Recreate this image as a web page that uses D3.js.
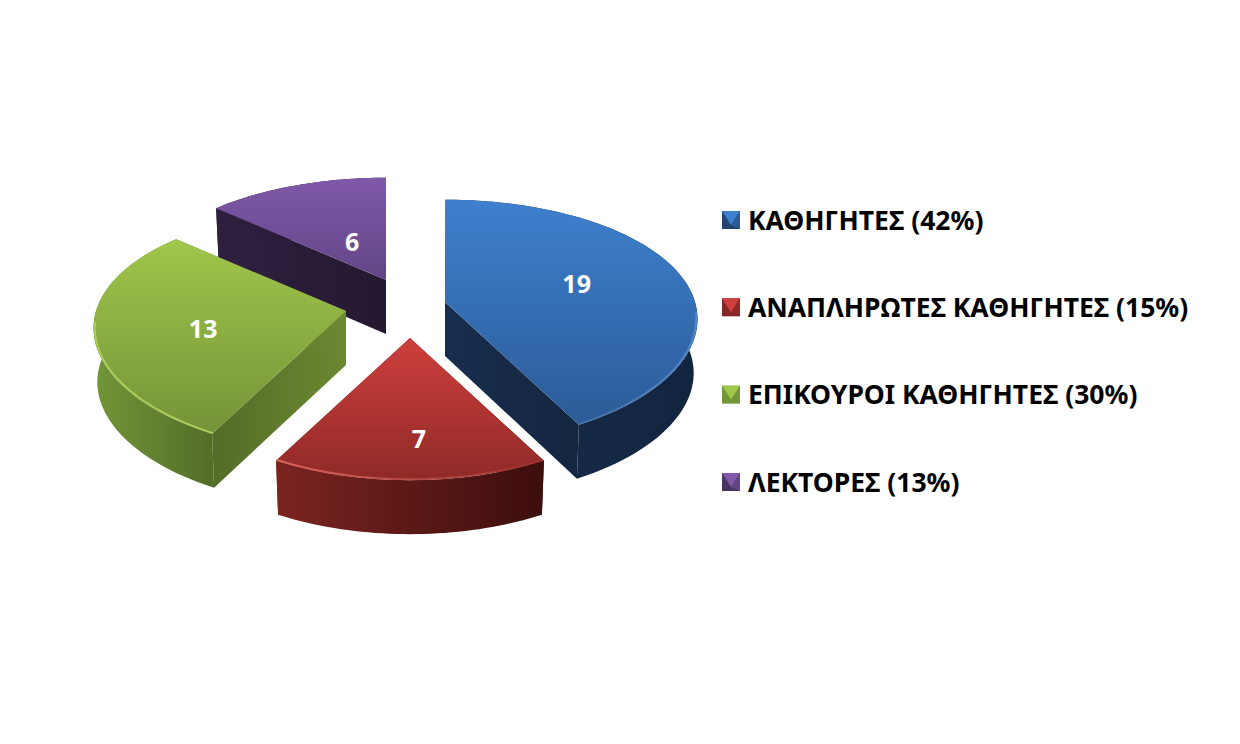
<!DOCTYPE html>
<html>
<head>
  <meta charset="utf-8">
  <script src="https://d3js.org/d3.v7.min.js"></script>
  <style>
    html, body { margin: 0; background: #fff; }
    text { font-family: "Noto Sans", sans-serif; font-weight: 700; }
    .value { fill: #fff; font-size: 25px; text-anchor: middle; }
    .legend-label { fill: #000; font-size: 26.5px; }
  </style>
</head>
<body>
  <svg id="chart" width="1240" height="744"></svg>
  <script>
    var categories = ['ΚΑΘΗΓΗΤΕΣ', 'ΑΝΑΠΛΗΡΩΤΕΣ ΚΑΘΗΓΗΤΕΣ', 'ΕΠΙΚΟΥΡΟΙ ΚΑΘΗΓΗΤΕΣ', 'ΛΕΚΤΟΡΕΣ'];
    var values = [19, 7, 13, 6];
    var percents = ['42%', '15%', '30%', '13%'];

    // top face gradient, wall gradient (left to right)
    var topColors = [['#3e80ce', '#2b5b97'], ['#ce3f3d', '#8f2a27'], ['#a0c64b', '#759338'], ['#8059a9', '#624586']];
    var wallColors = [['#182d4e', '#12253f'], ['#7b2421', '#3c0e0c'], ['#739638', '#536d27'], ['#2f2040', '#231730']];
    var cutColors = [['#182d4e', '#13263f'], ['#7b2421', '#3c0e0c'], ['#536c27', '#6c8831'], ['#2f2040', '#241831']];
    // rim highlight colour and its strength at the left and right end
    var glowColors = ['#6a9ad6', '#d9635e', '#aed05c', '#8059a9'];
    var glowFrom = [0.25, 1, 0.9, 0];
    var glowTo = [0.6, 0.1, 0.9, 0];

    // how far each slice is pulled out, on screen
    var sliceDx = d3.scaleOrdinal(categories, [45, 10, -54, -14]);
    var sliceDy = d3.scaleOrdinal(categories, [-7, 29, 2, -29]);
    // label placement along the middle of the slice
    var labelRadius = d3.scaleOrdinal(categories, [0.54, 0.7, 0.58, 0.39]);
    var labelDx = d3.scaleOrdinal(categories, [3, 9, 2, 4]);
    var labelDy = d3.scaleOrdinal(categories, [-3, 7, 6, 2]);

    var cx = 400, cy = 309;
    var rx = 250, ry = 119;
    var perspX = 0.14, perspY = 0.163;
    var depth = 54;
    var wallShrink = 0.985;

    var svg = d3.select('#chart');
    var defs = svg.append('defs');

    function gradient(id, stops, horizontal) {
      var g = defs.append('linearGradient').attr('id', id)
        .attr('x1', 0).attr('y1', 0)
        .attr('x2', horizontal ? 1 : 0).attr('y2', horizontal ? 0 : 1);
      stops.forEach(function (s, i) {
        g.append('stop').attr('offset', i / (stops.length - 1)).attr('stop-color', s);
      });
      return 'url(#' + id + ')';
    }

    defs.append('filter').attr('id', 'soft')
      .attr('x', '-5%').attr('y', '-20%').attr('width', '110%').attr('height', '140%')
      .append('feGaussianBlur').attr('stdDeviation', 0.7);

    // ground plane to screen, angle clockwise from 12 o'clock, with a bit of perspective
    function project(a, r, d, low) {
      var u = r * Math.sin(a), v = -r * Math.cos(a);
      return [
        cx + sliceDx(d.data) + rx * u / (1 - perspX * v) * (low ? wallShrink : 1),
        cy + sliceDy(d.data) + ry * v / (1 - perspY * v) + (low ? depth : 0)
      ];
    }

    function rimPoints(d, r, low) {
      var n = Math.ceil((d.endAngle - d.startAngle) * 40);
      return d3.range(n + 1).map(function (i) {
        return project(d.startAngle + (d.endAngle - d.startAngle) * i / n, r, d, low);
      });
    }

    var line = d3.line();
    var polygon = d3.line().curve(d3.curveLinearClosed);

    var slices = d3.pie().sort(null).value(function (c) { return values[categories.indexOf(c)]; })(categories);

    // painter's order: back slices first
    var drawOrder = [3, 2, 0, 1];

    drawOrder.forEach(function (i) {
      var d = slices[i];
      var g = svg.append('g').attr('class', 'slice');
      var rim = rimPoints(d, 1, false);
      var rimLow = rimPoints(d, 1, true);
      var apex = project(0, 0, d, false), apexLow = project(0, 0, d, true);

      // the two cut walls
      [0, rim.length - 1].forEach(function (k) {
        g.append('path')
          .attr('d', polygon([apex, rim[k], rimLow[k], apexLow]))
          .attr('fill', gradient('cut' + i + k, cutColors[i], true));
      });

      // outer wall
      g.append('path')
        .attr('d', polygon(rim.concat(rimLow.slice().reverse())))
        .attr('fill', gradient('wall' + i, wallColors[i], true));

      // top face
      g.append('path')
        .attr('d', polygon([apex].concat(rim)))
        .attr('fill', gradient('top' + i, topColors[i], false));

      // bevel highlight along the front of the rim
      var front = rimPoints(d, 0.995, false).filter(function (p) { return p[1] > apex[1] + 8; });
      if (glowFrom[i] > 0 && front.length > 1) {
        var glowId = 'glow' + i;
        var gg = defs.append('linearGradient').attr('id', glowId)
          .attr('gradientUnits', 'userSpaceOnUse')
          .attr('x1', d3.min(front, function (p) { return p[0]; })).attr('y1', 0)
          .attr('x2', d3.max(front, function (p) { return p[0]; })).attr('y2', 0);
        gg.append('stop').attr('offset', 0).attr('stop-color', glowColors[i]).attr('stop-opacity', glowFrom[i]);
        gg.append('stop').attr('offset', 1).attr('stop-color', glowColors[i]).attr('stop-opacity', glowTo[i]);
        g.append('path')
          .attr('d', line(front))
          .attr('fill', 'none')
          .attr('stroke', 'url(#' + glowId + ')')
          .attr('stroke-width', 2)
          .attr('filter', 'url(#soft)');
      }
    });

    // value labels
    svg.append('g').selectAll('text')
      .data(slices)
      .enter()
      .append('text')
      .attr('class', 'value')
      .attr('x', function (d) {
        return project((d.startAngle + d.endAngle) / 2, labelRadius(d.data), d, false)[0] + labelDx(d.data);
      })
      .attr('y', function (d) {
        return project((d.startAngle + d.endAngle) / 2, labelRadius(d.data), d, false)[1] + labelDy(d.data);
      })
      .attr('dy', '.36em')
      .text(function (d) { return values[d.index]; });

    // legend
    var legendY = d3.scalePoint().domain(categories).range([220, 482]);
    var markerSize = 18;

    var row = svg.append('g').selectAll('g')
      .data(categories)
      .enter()
      .append('g')
      .attr('transform', function (c) { return 'translate(722,' + legendY(c) + ')'; });

    row.each(function (c, i) {
      var m = d3.select(this);
      var h = markerSize / 2;
      var tl = [0, -h], tr = [markerSize, -h], br = [markerSize, h], bl = [0, h];
      var tip = [h, h * 0.55];
      var edge = d3.interpolateRgb(wallColors[i][0], topColors[i][1])(0.5);
      m.append('path').attr('d', polygon([tl, tr, br, bl])).attr('fill', edge);
      m.append('path').attr('d', polygon([tr, br, tip])).attr('fill', topColors[i][1]);
      m.append('path').attr('d', polygon([tl, tr, tip])).attr('fill', topColors[i][0]);
    });

    row.append('text')
      .attr('class', 'legend-label')
      .attr('x', 26)
      .attr('dy', '.36em')
      .text(function (c, i) { return c + ' (' + percents[i] + ')'; });
  </script>
</body>
</html>
